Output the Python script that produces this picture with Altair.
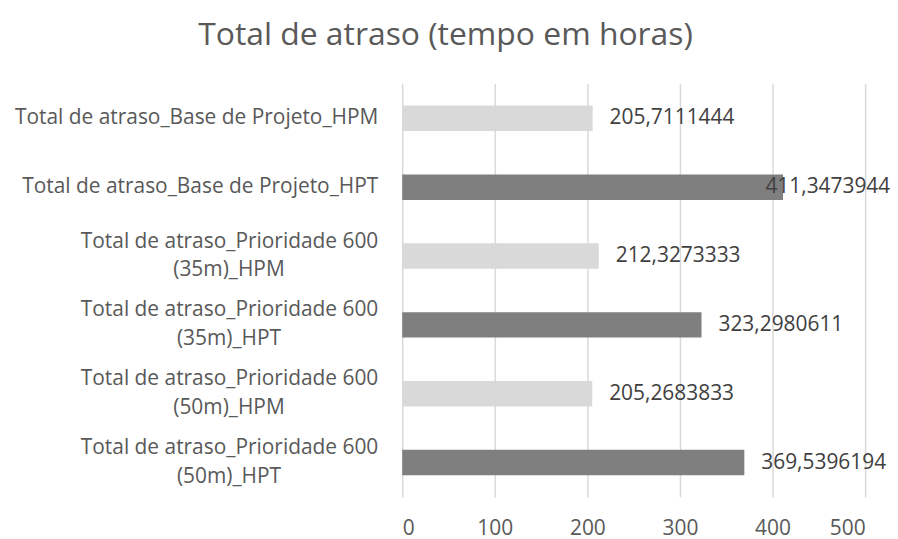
import altair as alt
import pandas as pd

categories = [
    "Total de atraso_Base de Projeto_HPM",
    "Total de atraso_Base de Projeto_HPT",
    "Total de atraso_Prioridade 600 (35m)_HPM",
    "Total de atraso_Prioridade 600 (35m)_HPT",
    "Total de atraso_Prioridade 600 (50m)_HPM",
    "Total de atraso_Prioridade 600 (50m)_HPT",
]
values = [205.7111444, 411.3473944, 212.3273333, 323.2980611, 205.2683833, 369.5396194]
periods = ["HPM", "HPT", "HPM", "HPT", "HPM", "HPT"]
x_ticks = [0, 100, 200, 300, 400, 500]
title_text = "Total de atraso (tempo em horas)"

line1, line2 = [], []
for c in categories:
    if " (" in c:
        a, b = c.split(" (", 1)
        line1.append(a)
        line2.append("(" + b)
    else:
        line1.append(c)
        line2.append("")

df = pd.DataFrame({"cat": categories, "value": values, "period": periods,
                   "line1": line1, "line2": line2})

FONT = "Open Sans"
base = alt.Chart(df)
y = alt.Y("cat:N", sort=categories, axis=None,
          scale=alt.Scale(paddingInner=0.63, paddingOuter=0.315))

bars = base.mark_bar().encode(
    y=y,
    x=alt.X("value:Q", scale=alt.Scale(domain=[0, 500], nice=False),
            axis=alt.Axis(values=x_ticks, grid=True, gridColor="#d9d9d9", gridWidth=1.5,
                          domain=False, ticks=False, tickSize=0, labelPadding=21,
                          labelFontSize=21, labelFont=FONT, labelColor="#595959",
                          title=None)),
    color=alt.Color("period:N", scale=alt.Scale(domain=["HPM", "HPT"],
                                                range=["#d9d9d9", "#7f7f7f"]), legend=None),
)

vlabels = base.transform_calculate(
    label="replace(toString(datum.value), '.', ',')",
    lx="min(datum.value, 374)",
).mark_text(align="left", baseline="middle", dx=17, fontSize=21, font=FONT,
            color="#404040").encode(y=y, x=alt.X("lx:Q"), text="label:N")

single = base.transform_filter("datum.line2 == ''").mark_text(
    align="right", baseline="middle", fontSize=21, font=FONT, color="#595959"
).encode(y=y, x=alt.value(-24), text="line1:N")

first = base.transform_filter("datum.line2 != ''").mark_text(
    align="right", baseline="middle", fontSize=21, font=FONT, color="#595959", dy=-14.5
).encode(y=y, x=alt.value(-24), text="line1:N")

second = base.transform_filter("datum.line2 != ''").mark_text(
    align="center", baseline="middle", fontSize=21, font=FONT, color="#595959", dy=14.5
).encode(y=y, x=alt.value(-174), text="line2:N")

chart = alt.layer(bars, vlabels, single, first, second).properties(
    width=465, height=415,
    autosize=alt.AutoSizeParams(type="none"),
    padding={"left": 396, "top": 75, "right": 25, "bottom": 48},
    title=alt.TitleParams(title_text, fontSize=32, font=FONT, fontWeight="normal",
                          color="#595959", anchor="middle", frame="group",
                          dx=-189, offset=32),
).configure_view(stroke=None)

chart.save("out.html", embed_options={"renderer": "svg", "actions": False})
